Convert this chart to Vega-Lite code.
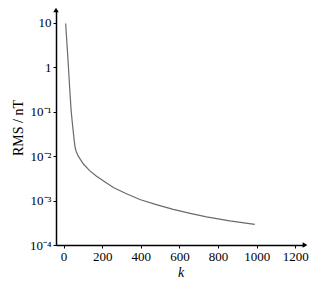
{
  "$schema": "https://vega.github.io/schema/vega-lite/v6.json",
  "autosize": "none",
  "padding": {"left": 56, "top": 10, "right": 17, "bottom": 41},
  "width": 249,
  "height": 235,
  "background": "white",
  "config": {"view": {"stroke": null}, "font": "Liberation Serif"},
  "layer": [
    {
      "data": {"values": [
        {"k": 11, "rms": 9.5},
        {"k": 18, "rms": 3.2},
        {"k": 25, "rms": 1.05},
        {"k": 32, "rms": 0.33},
        {"k": 39, "rms": 0.11},
        {"k": 45, "rms": 0.058},
        {"k": 51, "rms": 0.033},
        {"k": 56, "rms": 0.021},
        {"k": 60, "rms": 0.0155},
        {"k": 66, "rms": 0.0125},
        {"k": 77, "rms": 0.0098},
        {"k": 103, "rms": 0.0066},
        {"k": 135, "rms": 0.0047},
        {"k": 171, "rms": 0.0035},
        {"k": 215, "rms": 0.0026},
        {"k": 258, "rms": 0.00196},
        {"k": 320, "rms": 0.00145},
        {"k": 395, "rms": 0.00105},
        {"k": 480, "rms": 0.00081},
        {"k": 568, "rms": 0.00063},
        {"k": 650, "rms": 0.00052},
        {"k": 740, "rms": 0.00043},
        {"k": 860, "rms": 0.00035},
        {"k": 990, "rms": 0.00029}
      ]},
      "mark": {"type": "line", "color": "#6a6a6a", "strokeWidth": 1.2, "clip": false},
      "encoding": {
        "x": {
          "field": "k", "type": "quantitative",
          "scale": {"domain": [-39, 1250], "nice": false, "zero": false},
          "axis": {
            "values": [0, 200, 400, 600, 800, 1000, 1200], "format": "d",
            "title": "k", "titleFontStyle": "italic", "titleFontWeight": "normal",
            "titleFontSize": 14, "titlePadding": 2, "titleColor": "#000",
            "labelFontSize": 13, "labelColor": "#000", "labelPadding": 2,
            "grid": false, "domainColor": "#000", "domainWidth": 1.5,
            "tickColor": "#000", "tickSize": 3, "labelFlush": false
          }
        },
        "y": {
          "field": "rms", "type": "quantitative",
          "scale": {"type": "log", "domain": [0.0001, 19.1], "nice": false},
          "axis": {
            "values": [0.0001, 0.001, 0.01, 0.1, 1, 10],
            "labelExpr": "round(log(datum.value)/LN10) == 1 ? '10' : round(log(datum.value)/LN10) == 0 ? '1' : round(log(datum.value)/LN10) == -1 ? '10⁻¹' : round(log(datum.value)/LN10) == -2 ? '10⁻²' : round(log(datum.value)/LN10) == -3 ? '10⁻³' : '10⁻⁴'",
            "title": "RMS / nT", "titleFontWeight": "normal", "titleFontSize": 14,
            "titlePadding": 4, "titleColor": "#000",
            "labelFontSize": 13, "labelColor": "#000", "labelPadding": 2,
            "grid": false, "domainColor": "#000", "domainWidth": 1.5,
            "tickColor": "#000", "tickSize": 3
          }
        }
      }
    },
    {
      "data": {"values": [
        {"k": -39, "rms": 19.1, "dir": "up"},
        {"k": 1250, "rms": 0.0001, "dir": "right"}
      ]},
      "mark": {"type": "point", "filled": true, "color": "#000", "size": 30, "clip": false, "opacity": 1},
      "encoding": {
        "x": {"field": "k", "type": "quantitative"},
        "y": {"field": "rms", "type": "quantitative"},
        "shape": {"field": "dir", "type": "nominal", "scale": {"domain": ["up", "right"], "range": ["triangle-up", "triangle-right"]}, "legend": null}
      }
    }
  ]
}
